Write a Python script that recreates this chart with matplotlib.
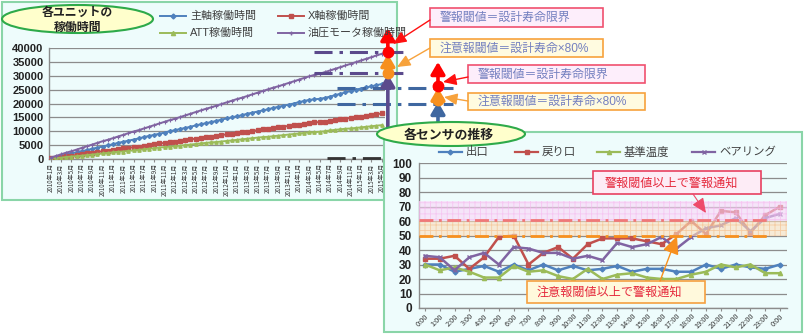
import matplotlib
matplotlib.use('Agg')
import matplotlib.pyplot as plt
from matplotlib.patches import Rectangle, Ellipse, FancyArrowPatch
from matplotlib.lines import Line2D

plt.rcParams['font.family'] = ['Noto Sans CJK JP', 'DejaVu Sans']
plt.rcParams['lines.scale_dashes'] = False
plt.rcParams['hatch.linewidth'] = 0.6

# ---------------- data: left chart (monthly operating hours) ----------------
month_labels = [f"{2010 + m // 12}年{m % 12 + 1}月" for m in range(65)]
main_axis = [300, 700, 1100, 1600, 2000, 2400, 2800, 3200, 3700, 4100, 4500, 4900, 5300, 5800, 6200, 6600,
             7000, 7400, 7900, 8300, 8700, 9100, 9500, 10000, 10400, 10800, 11200, 11600, 12100, 12500,
             12900, 13300, 13700, 14200, 14600, 15000, 15400, 15800, 16300, 16700, 17100, 17500, 17900,
             18400, 18800, 19200, 19600, 20000, 20500, 20900, 21300, 21500, 21700, 22000, 22500, 23000,
             23500, 24000, 24500, 25000, 25400, 25800, 26200, 26600, 27000]
x_axis = [200, 500, 700, 1000, 1200, 1500, 1700, 2000, 2200, 2500, 2800, 3000, 3300, 3500, 3800, 4000,
          4300, 4500, 4800, 5000, 5300, 5600, 5800, 6100, 6300, 6600, 6800, 7100, 7300, 7600, 7900, 8100,
          8400, 8600, 8900, 9100, 9400, 9600, 9900, 10100, 10400, 10700, 10900, 11200, 11400, 11700,
          11900, 12200, 12400, 12700, 13000, 13200, 13300, 13500, 13800, 14000, 14300, 14500, 14800,
          15000, 15300, 15600, 15800, 16100, 16400]
att = [100, 300, 500, 700, 900, 1000, 1200, 1400, 1600, 1800, 2000, 2200, 2400, 2600, 2700, 2900, 3100,
       3300, 3500, 3700, 3900, 4100, 4300, 4400, 4600, 4800, 5000, 5200, 5400, 5600, 5800, 6000, 6100,
       6300, 6500, 6700, 6900, 7100, 7300, 7500, 7700, 7900, 8000, 8200, 8400, 8600, 8800, 9000, 9200,
       9400, 9600, 9700, 9800, 10000, 10300, 10500, 10700, 10900, 11000, 11200, 11400, 11600, 11800,
       12000, 12200]
hyd_motor = [500, 1100, 1700, 2300, 2800, 3400, 4000, 4600, 5200, 5800, 6400, 6900, 7500, 8100, 8700,
             9300, 9900, 10400, 11000, 11600, 12200, 12800, 13400, 14000, 14500, 15100, 15700, 16300,
             16900, 17500, 18100, 18600, 19200, 19800, 20400, 21000, 21600, 22100, 22700, 23300, 23900,
             24500, 25100, 25700, 26200, 26800, 27400, 28000, 28600, 29200, 29800, 30300, 30700, 31300,
             31900, 32500, 33100, 33700, 34300, 34900, 35500, 36100, 36700, 37300, 37900]
left_series = ["主軸稼働時間", "X軸稼働時間", "ATT稼働時間", "油圧モータ稼働時間"]
# threshold levels drawn on the left chart (hours)
motor_alarm, motor_caution = 38450, 31100
main_alarm, main_caution = 25600, 19800

# ---------------- data: right chart (hourly sensor values) ----------------
hour_labels = [f"{h % 24}:00" for h in range(25)]
outlet = [30, 30, 25, 27, 29, 25, 30, 26, 30, 26, 29, 26, 27, 29, 25, 27, 27, 25, 25, 30, 27, 30, 28, 27, 30]
return_port = [34, 34, 36, 27, 35, 49, 50, 30, 38, 42, 34, 44, 48, 48, 48, 46, 44, 51, 60, 51, 67, 66, 52, 64, 70]
ref_temp = [30, 26, 28, 25, 21, 21, 29, 25, 26, 22, 20, 27, 20, 23, 24, 21, 20, 20, 23, 25, 30, 28, 30, 24, 24]
bearing = [36, 35, 26, 35, 38, 30, 42, 41, 38, 38, 34, 36, 33, 45, 42, 44, 49, 41, 49, 55, 57, 62, 53, 62, 65]
right_series = ["出口", "戻り口", "基準温度", "ベアリング"]
caution_level, alarm_level, alarm_top = 50, 61, 74

BLUE, RED, GREEN, PURPLE = '#4F81BD', '#C0504D', '#9BBB59', '#8064A2'
PANEL_FC, PANEL_EC = '#EEFCFC', '#8AD5A8'
GRID = '#8C8C8C'

W, H = 810, 334
fig = plt.figure(figsize=(8.1, 3.34), dpi=100)
fig.patch.set_facecolor('white')


def F(x, y):
    return (x / W, 1 - y / H)


def rect(x0, y0, x1, y1, **kw):
    r = Rectangle((x0 / W, 1 - y1 / H), (x1 - x0) / W, (y1 - y0) / H, transform=fig.transFigure, **kw)
    fig.add_artist(r)
    return r


def ell(cx, cy, w, h, **kw):
    e = Ellipse(F(cx, cy), w / W, h / H, transform=fig.transFigure, **kw)
    fig.add_artist(e)
    return e


def txt(x, y, s, **kw):
    return fig.text(x / W, 1 - y / H, s, **kw)


def farrow(x0, y0, x1, y1, **kw):
    a = FancyArrowPatch(F(x0, y0), F(x1, y1), transform=fig.transFigure, **kw)
    fig.add_artist(a)
    return a


def fline(xs, ys, **kw):
    l = Line2D([x / W for x in xs], [1 - y / H for y in ys], transform=fig.transFigure, **kw)
    fig.add_artist(l)
    return l


# ================= LEFT PANEL =================
rect(2, 2, 397, 200, facecolor=PANEL_FC, edgecolor=PANEL_EC, lw=1.5, zorder=-5)

ax1 = fig.add_axes([49 / W, 1 - 159 / H, 336 / W, 111 / H])
ax1.patch.set_visible(False)
xs = list(range(len(month_labels)))
ax1.plot(xs, main_axis, color=BLUE, lw=1.4, marker='D', ms=2, zorder=3)
ax1.plot(xs, x_axis, color=RED, lw=1.4, marker='s', ms=2.2, zorder=3)
ax1.plot(xs, att, color=GREEN, lw=1.4, marker='^', ms=2.4, zorder=3)
ax1.plot(xs, hyd_motor, color=PURPLE, lw=1.4, marker='+', ms=3, mew=0.8, zorder=3)
ax1.set_xlim(-0.35, 64.65)
ax1.set_ylim(0, 40000)
ax1.set_yticks(range(0, 40001, 5000))
ax1.set_yticklabels([str(v) for v in range(0, 40001, 5000)], fontsize=8, fontweight='bold',
                    fontfamily='Liberation Sans', color='#222222')
ax1.set_xticks(xs[::2])
ax1.set_xticklabels(month_labels[::2], rotation=90, fontsize=4.4, color='#333333', va='top')
ax1.tick_params(axis='y', length=0, pad=4)
ax1.tick_params(axis='x', length=2, pad=1, color=GRID)
ax1.yaxis.grid(True, color=GRID, lw=0.9)
ax1.set_axisbelow(True)
for s in ['top', 'right']:
    ax1.spines[s].set_visible(False)
for s in ['left', 'bottom']:
    ax1.spines[s].set_color(GRID)
    ax1.spines[s].set_linewidth(1.0)

# threshold dash-dot lines (left)
DASH = (13, 5, 2.5, 5)
ax1.plot([51.0, 69.0], [motor_alarm] * 2, color='#5B4A8C', lw=2.2, dashes=DASH, clip_on=False, zorder=4)
ax1.plot([51.0, 69.0], [motor_caution] * 2, color='#5B4A8C', lw=2.2, dashes=DASH, clip_on=False, zorder=4)
ax1.plot([55.4, 77.8], [main_alarm] * 2, color='#3F67A0', lw=2.2, dashes=DASH, clip_on=False, zorder=4)
ax1.plot([55.4, 77.8], [main_caution] * 2, color='#3F67A0', lw=2.2, dashes=DASH, clip_on=False, zorder=4)
ax1.plot([53.5, 64.3], [400] * 2, color='#333333', lw=2.0, dashes=DASH, clip_on=False, zorder=4)


def varrow(x, y0, y1, color):
    ax1.annotate('', xy=(x, y1), xytext=(x, y0), annotation_clip=False,
                 arrowprops=dict(arrowstyle='-|>,head_width=0.35,head_length=0.6', color=color,
                                 lw=2.6, mutation_scale=12, shrinkA=0, shrinkB=0), zorder=5)


# set 1 (hydraulic motor)
varrow(65.2, 9000, motor_caution - 600, '#5B4A8C')
varrow(65.2, motor_caution, motor_alarm - 600, '#F7901E')
varrow(65.2, motor_alarm, 47200, '#FF0000')
ax1.plot([65.2], [motor_caution], 'o', color='#F7901E', ms=7.5, clip_on=False, zorder=6)
ax1.plot([65.2], [motor_alarm], 'o', color='#FF0000', ms=7.5, clip_on=False, zorder=6)
# set 2 (main axis)
varrow(74.9, 13500, 20600, '#3F67A0')
varrow(74.9, 21200, 25700, '#F7901E')
varrow(74.9, 26300, 35000, '#FF0000')
ax1.plot([74.9], [21200], 'o', color='#F7901E', ms=7.5, clip_on=False, zorder=6)
ax1.plot([74.9], [26300], 'o', color='#FF0000', ms=7.5, clip_on=False, zorder=6)

# left legend
for (x0, y0), lab, col, mk, ms in zip([(160, 16), (278, 16), (160, 33), (278, 33)], left_series,
                                      [BLUE, RED, GREEN, PURPLE], ['D', 's', '^', '+'], [2.5, 3, 3, 3.5]):
    fline([x0, x0 + 26], [y0, y0], color=col, lw=1.4, zorder=3)
    fline([x0 + 13], [y0], color=col, marker=mk, ms=ms, zorder=3)
    txt(x0 + 30, y0, lab, fontsize=7.9, color='#404040', va='center', ha='left', zorder=3,
        family=['Liberation Sans', 'Noto Sans CJK JP'])

# left title oval
ell(77.5, 19, 151, 28, facecolor='#FFFFCC', edgecolor='#2EAA4A', lw=1.5, zorder=3)
txt(77.5, 20, "各ユニットの\n稼働時間", fontsize=8.6, fontweight='bold', ha='center', va='center',
    linespacing=1.15, color='#222222', zorder=4)

# threshold callout boxes
BOXTXT = '#7480C0'
for (x0, y0, x1, y1, s, fc, ec) in [
        (430, 8, 603, 27, "警報閾値＝設計寿命限界", '#FDEEFB', '#F0506E'),
        (430, 39, 603, 57, "注意報閾値＝設計寿命×80%", '#FFFBE0', '#F7A23C'),
        (468, 65, 645, 83, "警報閾値＝設計寿命限界", '#FDEEFB', '#F0506E'),
        (468, 93, 645, 110, "注意報閾値＝設計寿命×80%", '#FFFBE0', '#F7A23C')]:
    rect(x0, y0, x1, y1, facecolor=fc, edgecolor=ec, lw=1.2, zorder=3)
    txt(x0 + 10, (y0 + y1) / 2 + 0.5, s, fontsize=8.6, color=BOXTXT, ha='left', va='center', zorder=4,
        family=['Liberation Sans', 'Noto Sans CJK JP'])

for (x0, y0, x1, y1, col) in [(430, 20, 393, 44, '#FF1010'), (430, 48, 397, 67, '#F7A23C'),
                              (468, 77, 443, 82, '#FF1010'), (468, 101, 444, 97, '#F7A23C')]:
    farrow(x0, y0, x1, y1, arrowstyle='-|>,head_width=0.35,head_length=0.8', mutation_scale=10,
           color=col, lw=1.0, shrinkA=0, shrinkB=0, zorder=4)

# ================= RIGHT PANEL =================
rect(384, 132, 802, 332, facecolor=PANEL_FC, edgecolor=PANEL_EC, lw=1.5, zorder=1)

ax2 = fig.add_axes([419 / W, 1 - 308 / H, 368 / W, 145 / H])
ax2.set_zorder(2)
ax2.patch.set_visible(False)
hx = list(range(len(hour_labels)))
ax2.plot(hx, outlet, color=BLUE, lw=1.8, marker='D', ms=2.5, zorder=3)
ax2.plot(hx, return_port, color=RED, lw=1.8, marker='s', ms=3, zorder=3)
ax2.plot(hx, ref_temp, color=GREEN, lw=1.8, marker='^', ms=3, zorder=3)
ax2.plot(hx, bearing, color=PURPLE, lw=1.8, marker='x', ms=3, mew=1, zorder=3)
ax2.set_xlim(-0.4, 24.47)
ax2.set_ylim(0, 100)
ax2.set_yticks(range(0, 101, 10))
ax2.set_yticklabels([str(v) for v in range(0, 101, 10)], fontsize=8.5, fontweight='bold',
                    fontfamily='Liberation Sans', color='#222222')
ax2.set_xticks(hx)
ax2.set_xticklabels(hour_labels, rotation=45, ha='right', rotation_mode='anchor', fontsize=5.3,
                    color='#333333')
ax2.tick_params(axis='y', length=0, pad=5)
ax2.tick_params(axis='x', length=2, pad=1, color=GRID)
ax2.yaxis.grid(True, color=GRID, lw=0.9)
ax2.set_axisbelow(True)
for s in ['top', 'right']:
    ax2.spines[s].set_visible(False)
for s in ['left', 'bottom']:
    ax2.spines[s].set_color(GRID)
    ax2.spines[s].set_linewidth(1.0)

# threshold bands (semi-transparent, over the lines)
ax2.axhspan(alarm_level - 1, alarm_top, facecolor=(0.98, 0.84, 0.97, 0.6), edgecolor=(0.96, 0.70, 0.93, 0.6),
            hatch='+++', lw=0, zorder=5)
ax2.axhspan(caution_level, alarm_level - 1, facecolor=(0.99, 0.87, 0.74, 0.6),
            edgecolor=(0.96, 0.72, 0.50, 0.6), hatch='+++', lw=0, zorder=5)
ax2.plot([-0.4, 23.2], [alarm_level] * 2, color='#F07878', lw=2.0, dashes=(10, 4, 2, 4), zorder=6)
ax2.plot([-0.4, 23.2], [caution_level] * 2, color='#F7901E', lw=2.0, dashes=(10, 4, 2, 4), zorder=6)

# right legend
for x0, lab, col, mk, ms in zip([439, 515, 597, 692], right_series, [BLUE, RED, GREEN, PURPLE],
                                ['D', 's', '^', 'x'], [2.5, 3, 3, 3.5]):
    fline([x0, x0 + 23], [152, 152], color=col, lw=1.6, zorder=3)
    fline([x0 + 11.5], [152], color=col, marker=mk, ms=ms, zorder=3)
    txt(x0 + 27, 152, lab, fontsize=8.2, color='#404040', va='center', ha='left', zorder=3)

# right title oval
ell(451, 134, 148, 24, facecolor='#FFFFCC', edgecolor='#2EAA4A', lw=1.5, zorder=3)
txt(449, 134.5, "各センサの推移", fontsize=9.3, fontweight='bold', ha='center', va='center',
    color='#222222', zorder=4)

# right callouts
rect(593, 171, 761, 194, facecolor='#FDECF6', edgecolor='#E84060', lw=1.2, zorder=7)
txt(605, 183, "警報閾値以上で警報通知", fontsize=8.7, color='#E5283C', ha='left', va='center', zorder=8)
farrow(693, 194, 706, 213, arrowstyle='-|>,head_width=0.4,head_length=0.9', mutation_scale=10,
       color='#EE4A6A', lw=0.8, shrinkA=0, shrinkB=0, zorder=8)
rect(527, 281, 705, 303, facecolor='#FFF9DC', edgecolor='#F5A040', lw=1.2, zorder=7)
txt(537, 292, "注意報閾値以上で警報通知", fontsize=8.7, color='#E5283C', ha='left', va='center', zorder=8)
farrow(660, 281, 677, 236, arrowstyle='-|>,head_width=0.5,head_length=1.1', mutation_scale=10,
       color='#F7901E', lw=1.0, shrinkA=0, shrinkB=0, zorder=8)

fig.savefig('out.png', dpi=100)
